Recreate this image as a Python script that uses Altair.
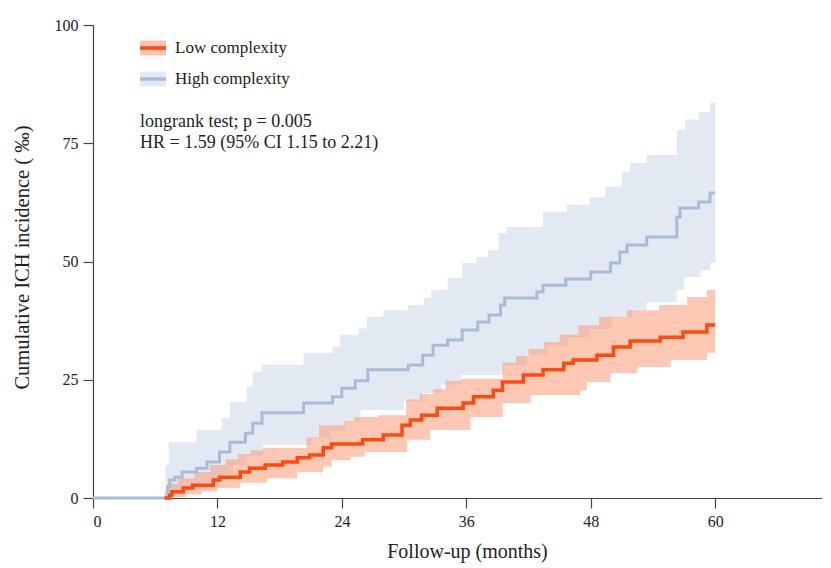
import altair as alt
import pandas as pd

# ---------------- data (months, cumulative incidence per mille) ----------------
low_t = [6.9, 7.0, 7.4, 7.6, 8.7, 9.6, 11.6, 12.2, 14.2, 15.1, 16.6, 18.3, 19.7, 20.9, 22.2, 23.0,
         26.0, 28.0, 29.8, 30.6, 31.7, 33.2, 35.7, 36.7, 38.6, 39.5, 41.5, 43.4, 45.4, 46.3,
         48.6, 50.2, 51.8, 54.7, 56.9, 59.2, 60.0]
low_v = [0, 0, 0.6, 1.3, 2.1, 2.7, 3.8, 4.4, 5.5, 6.3, 7.0, 7.6, 8.5, 9.1, 10.6, 11.4,
         12.3, 13.3, 15.4, 16.5, 17.5, 19.0, 20.1, 21.4, 22.8, 24.5, 26.0, 27.1, 28.5, 29.2,
         30.2, 31.9, 33.2, 34.0, 35.1, 36.6, 36.6]

low_up_t = [0, 6.9, 7.3, 8.2, 9.8, 11.3, 12.8, 14.0, 15.2, 16.4, 20.6, 21.8, 24.2, 25.2, 27.5,
            30.2, 31.5, 32.8, 34.0, 35.5, 39.5, 40.8, 42.0, 43.5, 45.0, 46.8, 48.8, 51.5,
            54.6, 57.3, 59.2, 60.0]
low_up_v = [0, 1.5, 3.0, 4.2, 5.5, 7.0, 8.2, 9.3, 10.1, 10.6, 12.8, 15.4, 16.3, 17.1, 17.5,
            20.8, 22.0, 23.0, 24.8, 25.2, 28.6, 30.0, 31.5, 33.0, 34.5, 36.5, 38.3, 39.7,
            40.8, 42.5, 44.0, 44.0]

low_lo_t = [0, 7.3, 9.0, 10.5, 12.0, 14.2, 16.8, 19.7, 22.2, 23.0, 24.8, 26.2, 30.3, 32.5,
            36.4, 39.5, 42.2, 47.0, 47.6, 49.9, 52.5, 55.7, 59.2, 60.0]
low_lo_v = [0, 0.2, 0.8, 1.4, 2.1, 3.2, 4.2, 5.5, 6.6, 8.0, 8.7, 9.7, 12.3, 14.4,
            17.1, 20.1, 21.8, 22.8, 24.5, 26.4, 27.7, 29.2, 30.7, 30.7]

high_t = [0, 7.2, 7.4, 7.9, 8.6, 10.0, 11.0, 12.2, 13.2, 14.7, 15.4, 16.3, 20.3, 23.1, 24.0,
          25.3, 26.5, 30.4, 31.8, 32.8, 34.2, 35.6, 37.1, 38.2, 39.3, 39.7, 42.8, 43.4, 45.6,
          48.0, 49.9, 50.8, 51.5, 53.4, 56.3, 56.6, 58.4, 59.5, 60.0]
high_v = [0, 2.5, 3.8, 4.4, 5.5, 6.3, 7.6, 9.7, 11.8, 13.7, 15.8, 18.0, 20.1, 21.4, 23.2,
          24.8, 27.1, 28.1, 30.2, 32.3, 33.4, 35.5, 37.2, 38.7, 40.8, 42.3, 43.6, 45.0, 46.3,
          47.8, 49.7, 52.0, 53.5, 55.2, 59.4, 61.3, 62.6, 64.5, 64.5]

high_up_t = [0, 7.0, 7.3, 10.0, 12.4, 13.2, 14.8, 15.4, 16.3, 20.3, 23.1, 23.8, 25.6, 26.4,
             28.0, 30.4, 31.9, 32.6, 34.2, 35.6, 37.0, 38.1, 39.1, 39.9, 43.4, 45.7, 47.9,
             49.4, 51.0, 51.8, 53.4, 56.3, 57.1, 58.4, 59.5, 60.0]
high_up_v = [0, 7.0, 11.8, 14.4, 16.9, 20.3, 23.5, 26.6, 28.1, 30.7, 32.0, 34.5, 35.9, 38.3,
             39.7, 40.8, 42.3, 44.0, 46.5, 49.7, 51.0, 52.4, 56.0, 57.3, 60.5, 62.0, 63.6,
             65.8, 69.0, 70.8, 72.5, 77.8, 80.0, 81.6, 83.5, 83.5]

high_lo_t = [0, 7.3, 9.0, 11.0, 12.2, 13.5, 14.8, 16.4, 21.0, 22.8, 24.3, 25.8, 30.0, 31.8,
             33.6, 35.5, 39.6, 41.8, 43.8, 45.8, 47.8, 50.0, 52.0, 53.4, 56.3, 57.0, 58.6,
             59.5, 60.0]
high_lo_v = [0, 0.8, 2.0, 3.2, 5.0, 7.0, 9.0, 11.2, 12.6, 14.2, 16.2, 18.6, 20.5, 22.2,
             24.0, 26.0, 28.0, 30.3, 32.2, 34.0, 35.8, 38.2, 39.7, 41.4, 44.0, 46.7, 48.2,
             49.7, 49.7]

series_names = ["Low complexity", "High complexity"]
line_colors = ["#FF4A0F", "#A9BCD7"]
band_colors = ["#F99E7C", "#E2E9F3"]
x_ticks = [0, 12, 24, 36, 48, 60]
y_ticks = [0, 25, 50, 75, 100]
annot = ["longrank test; p = 0.005", "HR = 1.59 (95% CI 1.15 to 2.21)"]

FONT = "Liberation Serif"


def band_frame(name, tl, vl, tu, vu):
    times = sorted(set(tl) | set(tu))
    lo = pd.Series(vl, index=tl).reindex(times, method="ffill")
    up = pd.Series(vu, index=tu).reindex(times, method="ffill")
    return pd.DataFrame({"t": times, "lo": lo.values, "up": up.values, "series": name})


lines = pd.concat([
    pd.DataFrame({"t": low_t, "v": low_v, "series": series_names[0]}),
    pd.DataFrame({"t": high_t, "v": high_v, "series": series_names[1]}),
])
band_low = band_frame(series_names[0], low_lo_t, low_lo_v, low_up_t, low_up_v)
band_high = band_frame(series_names[1], high_lo_t, high_lo_v, high_up_t, high_up_v)

W, H = 729, 473

xs = alt.Scale(domain=[0, 70.3], nice=False)
ys = alt.Scale(domain=[0, 100], nice=False)
x_axis = alt.Axis(values=x_ticks, title="Follow-up (months)", titleX=374, titleY=53,
                  titleAlign="center", titleBaseline="middle", titleFontSize=20)
y_axis = alt.Axis(values=y_ticks, title="Cumulative ICH incidence ( ‰)", titleX=-71,
                  titleY=232, titleAngle=270, titleAlign="center", titleBaseline="middle",
                  titleFontSize=20.5)

band_h = alt.Chart(band_high).mark_area(interpolate="step-after", color=band_colors[1], opacity=1).encode(
    x=alt.X("t:Q", scale=xs, axis=x_axis),
    y=alt.Y("lo:Q", scale=ys, axis=y_axis),
    y2="up:Q",
)
band_l = alt.Chart(band_low).mark_area(interpolate="step-after", color=band_colors[0], opacity=0.58).encode(
    x=alt.X("t:Q", scale=xs),
    y=alt.Y("lo:Q", scale=ys),
    y2="up:Q",
)
line_h = alt.Chart(lines).transform_filter(alt.datum.series == series_names[1]).mark_line(
    interpolate="step-after", color=line_colors[1], strokeWidth=3).encode(
    x=alt.X("t:Q", scale=xs), y=alt.Y("v:Q", scale=ys))
line_l = alt.Chart(lines).transform_filter(alt.datum.series == series_names[0]).mark_line(
    interpolate="step-after", color=line_colors[0], strokeWidth=3.5).encode(
    x=alt.X("t:Q", scale=xs), y=alt.Y("v:Q", scale=ys))

# ---------------- legend & annotation (decorations) ----------------
leg_y = [23, 54]
one = pd.DataFrame({"a": [0]})
leg_layers = []
for i in range(2):
    leg_layers.append(alt.Chart(one).mark_rect(color=band_colors[i], opacity=0.6 if i == 0 else 1).encode(
        x=alt.value(47), x2=alt.value(73), y=alt.value(leg_y[i] - 7.5), y2=alt.value(leg_y[i] + 7.5)))
    leg_layers.append(alt.Chart(one).mark_rule(color=line_colors[i], strokeWidth=3.5).encode(
        x=alt.value(47), x2=alt.value(73), y=alt.value(leg_y[i])))
    leg_layers.append(alt.Chart(one).mark_text(text=series_names[i], align="left", baseline="middle",
                                              font=FONT, fontSize=17, color="#222").encode(
        x=alt.value(82), y=alt.value(leg_y[i])))
ann_y = [102, 123]
for i in range(2):
    leg_layers.append(alt.Chart(one).mark_text(text=annot[i], align="left", baseline="alphabetic",
                                              font=FONT, fontSize=18, color="#222").encode(
        x=alt.value(47), y=alt.value(ann_y[i])))

chart = alt.layer(band_h, band_l, line_h, line_l, *leg_layers).properties(
    width=W, height=H,
    autosize=alt.AutoSizeParams(type="none"),
    padding={"left": 85, "top": 17, "right": 0, "bottom": 66},
).configure_view(stroke=None).configure_axis(
    grid=False, domainColor="#444", tickColor="#444", domainWidth=1.2, tickWidth=1.2,
    tickSize=10, labelPadding=5, labelFont=FONT, labelFontSize=16, labelColor="#222",
    titleFont=FONT, titleFontSize=19, titleFontWeight="normal", titleColor="#222",
)

chart.save("out.html", embed_options={"renderer": "svg", "actions": False})
